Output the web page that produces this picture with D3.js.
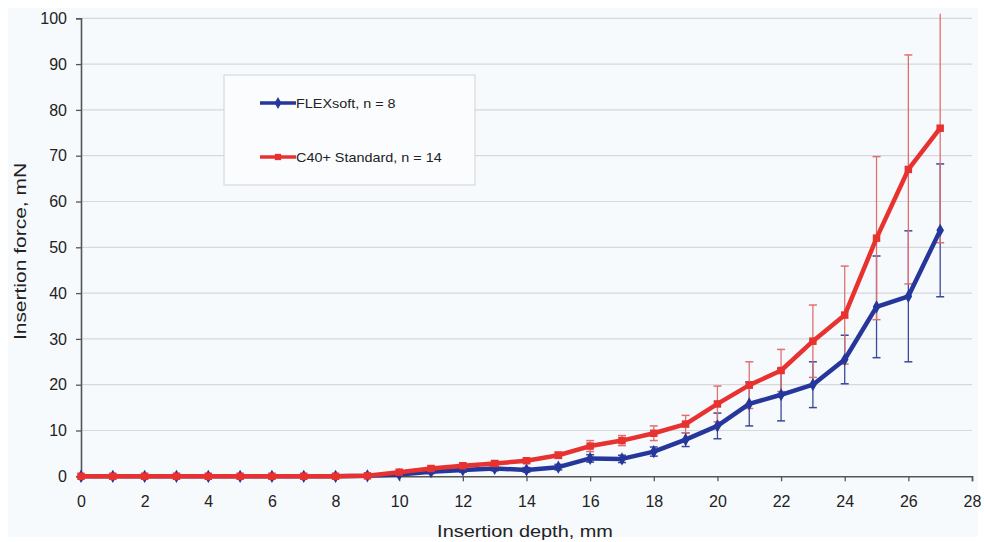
<!DOCTYPE html>
<html>
<head>
<meta charset="utf-8">
<script src="https://cdn.jsdelivr.net/npm/d3@7"></script>
<style>
  body { margin: 0; background: #fff; }
  svg text { font-family: "Liberation Sans", Arial, sans-serif; fill: #222; }
</style>
</head>
<body>
<svg id="chart" width="984" height="542"></svg>
<script>
// insertion depth, mm
var depth = d3.range(0, 28);

// FLEXsoft, n = 8 (mean and SD, mN)
var flexMean = [0, 0, 0, 0, 0, 0, 0, 0, 0, 0.1, 0.4, 1.0, 1.4, 1.7, 1.4, 2.0, 3.9, 3.8, 5.4, 8.0, 11.0, 15.8, 17.8, 20.0, 25.5, 37.0, 39.3, 53.7];
var flexSd = [0, 0, 0, 0, 0, 0, 0, 0, 0, 0.1, 0.3, 0.4, 0.5, 0.5, 0.5, 0.6, 0.8, 0.8, 1.0, 1.5, 2.8, 4.8, 5.7, 5.0, 5.3, 11.1, 14.3, 14.5];

// C40+ Standard, n = 14
var c40Mean = [0, 0, 0, 0, 0, 0, 0, 0, 0, 0.1, 0.9, 1.7, 2.3, 2.8, 3.4, 4.6, 6.6, 7.8, 9.4, 11.4, 15.8, 19.9, 23.1, 29.5, 35.2, 52.0, 67.0, 76.0];
var c40Sd = [0, 0, 0, 0, 0, 0, 0, 0, 0, 0.1, 0.3, 0.5, 0.6, 0.6, 0.5, 0.7, 1.2, 1.1, 1.6, 1.9, 3.9, 5.1, 4.6, 7.9, 10.7, 17.8, 25.0, 25.0];

var xTicks = d3.range(0, 29, 2);
var yTicks = d3.range(0, 101, 10);

var svg = d3.select('#chart');

var x = d3.scaleLinear().domain([0, 28]).range([81, 972]);
var y = d3.scaleLinear().domain([0, 100]).range([476.3, 18.3]);

// light panel behind the chart
svg.append('rect')
    .attr('x', 8).attr('y', 8)
    .attr('width', 970).attr('height', 529)
    .attr('fill', '#f7fafd');

// gridlines
svg.append('g').selectAll('line')
    .data(yTicks.filter(function (d) { return d > 0; }))
    .enter().append('line')
    .attr('x1', x(0)).attr('x2', x(28))
    .attr('y1', function (d) { return y(d); })
    .attr('y2', function (d) { return y(d); })
    .attr('stroke', '#d6d8da').attr('stroke-width', 1.2);

// axes
var yAxis = svg.append('g')
    .attr('transform', 'translate(' + x(0) + ',0)')
    .call(d3.axisLeft(y).tickValues(yTicks).tickSize(5).tickPadding(9));
var xAxis = svg.append('g')
    .attr('transform', 'translate(0,' + y(0) + ')')
    .call(d3.axisBottom(x).tickValues(xTicks).tickSize(5).tickPadding(14));

[xAxis, yAxis].forEach(function (a) {
    a.select('.domain').attr('stroke', '#555').attr('stroke-width', 1.6);
    a.selectAll('.tick line').attr('stroke', '#555').attr('stroke-width', 1.3);
    a.selectAll('.tick text')
        .style('font-family', '"Liberation Sans", Arial, sans-serif')
        .style('font-size', '16px').attr('fill', '#222');
});

// axis titles (the source picture is a little stretched along the text)
svg.append('text')
    .attr('transform', 'translate(' + 525 + ',537) scale(1.17,1)')
    .attr('text-anchor', 'middle')
    .style('font-size', '17px')
    .text('Insertion depth, mm');

svg.append('text')
    .attr('transform', 'translate(26,251.5) rotate(-90) scale(1.25,1)')
    .attr('text-anchor', 'middle')
    .style('font-size', '16.8px')
    .text('Insertion force, mN');

var series = [
    {name: 'C40+ Standard, n = 14', mean: c40Mean, sd: c40Sd, color: '#e8322f', err: '#e07070', shape: 'square'},
    {name: 'FLEXsoft, n = 8', mean: flexMean, sd: flexSd, color: '#25379a', err: '#3a4a9a', shape: 'diamond'}
];

function errorBars(s) {
    var g = svg.append('g');
    depth.forEach(function (d, i) {
        if (s.sd[i] <= 0.15) return;
        var top = Math.min(s.mean[i] + s.sd[i], 101);
        var bot = s.mean[i] - s.sd[i];
        g.append('line')
            .attr('x1', x(d)).attr('x2', x(d))
            .attr('y1', y(top)).attr('y2', y(bot))
            .attr('stroke', s.err).attr('stroke-width', 1.3);
        [s.mean[i] + s.sd[i], bot].forEach(function (v) {
            if (v > 100) return;
            g.append('line')
                .attr('x1', x(d) - 4).attr('x2', x(d) + 4)
                .attr('y1', y(v)).attr('y2', y(v))
                .attr('stroke', s.err).attr('stroke-width', 1.5);
        });
    });
}

function drawLine(s) {
    var line = d3.line()
        .x(function (d) { return x(d); })
        .y(function (d, i) { return y(s.mean[i]); });
    svg.append('path')
        .datum(depth)
        .attr('d', line)
        .attr('fill', 'none')
        .attr('stroke', s.color)
        .attr('stroke-width', 4.5)
        .attr('stroke-linejoin', 'round');
    var sym = d3.symbol()
        .type(s.shape === 'square' ? d3.symbolSquare : d3.symbolDiamond)
        .size(s.shape === 'square' ? 56 : 50);
    svg.append('g').selectAll('path')
        .data(depth)
        .enter().append('path')
        .attr('d', sym)
        .attr('transform', function (d, i) { return 'translate(' + x(d) + ',' + y(s.mean[i]) + ')'; })
        .attr('fill', s.color);
}

// blue underneath, red on top
errorBars(series[1]);
errorBars(series[0]);
drawLine(series[1]);
drawLine(series[0]);

// legend
var legend = svg.append('g');
legend.append('rect')
    .attr('x', 224).attr('y', 75)
    .attr('width', 251).attr('height', 110)
    .attr('fill', '#fbfcfe')
    .attr('stroke', '#cfd3d8').attr('stroke-width', 1);

var legendItems = [series[1], series[0]];
legendItems.forEach(function (s, i) {
    var ly = 103 + i * 54;
    legend.append('line')
        .attr('x1', 260).attr('x2', 296)
        .attr('y1', ly).attr('y2', ly)
        .attr('stroke', s.color).attr('stroke-width', 3.5);
    legend.append('path')
        .attr('d', d3.symbol().type(s.shape === 'square' ? d3.symbolSquare : d3.symbolDiamond).size(40))
        .attr('transform', 'translate(278,' + ly + ')')
        .attr('fill', s.color);
    legend.append('text')
        .attr('transform', 'translate(296,' + (ly + 4.5) + ') scale(1.2,1)')
        .style('font-size', '12px')
        .text(s.name);
});
</script>
</body>
</html>
